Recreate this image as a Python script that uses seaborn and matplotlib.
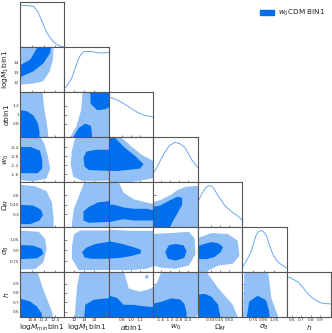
import matplotlib
matplotlib.use("Agg")
import matplotlib.pyplot as plt
from matplotlib.patches import Patch
import seaborn as sns

sns.set_theme(style="white")
plt.rcParams["font.family"] = ["DejaVu Sans"]

dark = "#006FED"
light = "#93C1F5"
line_col = "#6AA8F0"

labels = [r"log$M_{min}$bin1", r"log$M_1$bin1", r"$\alpha$bin1", r"$w_0$",
          r"$\Omega_M$", r"$\sigma_8$", r"$h$"]
lims = [(10.2, 12.45), (11.0, 15.5), (0.5, 1.5), (-1.95, 0.05),
        (0.09, 0.81), (0.59, 1.23), (0.54, 1.02)]
xticks = [[10.8, 11.4, 12.0], [12, 13, 14], [0.8, 1.0, 1.2], [-1.6, -1.2, -0.8, -0.4],
          [0.30, 0.45, 0.60], [0.75, 0.90, 1.05], [0.6, 0.7, 0.8, 0.9]]
xticklabels = [["10.8", "11.4", "12.0"], ["12", "13", "14"], ["0.8", "1.0", "1.2"],
               ["-1.6", "-1.2", "-0.8", "-0.4"],
               ["0.30", "0.45", "0.60"], ["0.75", "0.90", "1.05"],
               ["0.6", "0.7", "0.8", "0.9"]]
yticks = [None, [12, 13, 14], [0.8, 1.0, 1.2], [-0.4, -0.8, -1.2, -1.6],
          [0.3, 0.45, 0.6], [0.75, 0.9, 1.05], [0.6, 0.7, 0.8, 0.9]]
yticklabels = [None, ["12", "13", "14"], ["0.8", "1", "1.2"],
               ["-0.4", "-0.8", "-1.2", "-1.6"],
               ["0.3", "0.45", "0.6"], ["0.75", "0.9", "1.05"],
               ["0.6", "0.7", "0.8", "0.9"]]

# 1D marginals (normalised)
mmin_x = [10.2, 10.54, 10.88, 11.1, 11.3, 11.55, 11.78, 12.0, 12.23, 12.45]
mmin_p = [1.0, 0.99, 0.97, 0.85, 0.63, 0.35, 0.19, 0.08, 0.02, 0.0]
m1_x = [11.0, 11.32, 11.63, 11.9, 12.13, 12.35, 12.62, 12.89, 13.12, 13.66, 14.33, 14.92, 15.5]
m1_p = [0.09, 0.17, 0.28, 0.43, 0.6, 0.74, 0.88, 0.95, 0.97, 0.97, 0.94, 0.93, 0.95]
alpha_x = [0.5, 0.63, 0.76, 0.9, 1.05, 1.17, 1.28, 1.4, 1.5]
alpha_p = [0.96, 0.91, 0.85, 0.76, 0.65, 0.58, 0.53, 0.5, 0.48]
w0_x = [-1.95, -1.79, -1.65, -1.45, -1.21, -0.97, -0.75, -0.55, -0.35, -0.23, 0.01, 0.05]
w0_p = [0.22, 0.34, 0.5, 0.7, 0.88, 0.95, 0.92, 0.84, 0.67, 0.54, 0.38, 0.34]
om_x = [0.09, 0.162, 0.22, 0.284, 0.342, 0.421, 0.529, 0.594, 0.659, 0.738, 0.81]
om_p = [0.6, 0.81, 0.95, 1.0, 0.95, 0.75, 0.52, 0.43, 0.35, 0.27, 0.17]
s8_x = [0.59, 0.654, 0.718, 0.788, 0.82, 0.859, 0.897, 0.942, 0.987, 1.038, 1.089, 1.134, 1.23]
s8_p = [0.11, 0.28, 0.49, 0.87, 0.96, 1.0, 0.97, 0.87, 0.63, 0.41, 0.28, 0.21, 0.1]
h_x = [0.54, 0.602, 0.665, 0.718, 0.77, 0.814, 0.862, 0.905, 0.948, 1.02]
h_p = [0.98, 0.92, 0.84, 0.71, 0.56, 0.47, 0.4, 0.35, 0.33, 0.32]

# 2D credible regions: 95% (outer) and 68% (inner) boundaries
m1_mmin_95 = [(10.1, 11.72), (10.1, 15.7), (11.91, 15.7), (11.87, 14.24), (11.71, 13.07),
              (11.37, 12.08), (10.88, 11.86)]
m1_mmin_68 = [(10.1, 12.4), (10.88, 13.07), (11.39, 13.88), (11.73, 14.92), (11.78, 15.7),
              (11.15, 15.7), (10.72, 14.24), (10.1, 13.57)]
al_mmin_95 = [(10.1, 0.45), (10.1, 1.55), (11.33, 1.55), (11.44, 1.1), (11.6, 0.7), (11.64, 0.45)]
al_mmin_68 = [(10.1, 0.45), (10.1, 1.1), (10.54, 1.08), (10.88, 0.98), (11.1, 0.82),
              (11.19, 0.62), (11.19, 0.45)]
w0_mmin_95 = [(10.1, -1.85), (10.1, 0.1), (11.21, 0.1), (11.44, -0.25), (11.6, -0.75),
              (11.73, -1.35), (11.55, -1.79), (10.88, -1.91)]
w0_mmin_68 = [(10.1, -0.39), (10.76, -0.39), (11.21, -0.55), (11.33, -0.95), (11.33, -1.35),
              (11.1, -1.55), (10.1, -1.55)]
om_mmin_95 = [(10.1, 0.774), (10.97, 0.745), (11.55, 0.666), (11.82, 0.486), (11.91, 0.22),
              (11.91, 0.05), (10.1, 0.05)]
om_mmin_68 = [(10.1, 0.45), (10.88, 0.436), (11.26, 0.371), (11.37, 0.284), (11.19, 0.198),
              (10.72, 0.14), (10.1, 0.14)]
s8_mmin_95 = [(10.1, 1.185), (11.15, 1.166), (11.48, 1.064), (11.55, 0.923), (11.39, 0.731),
              (10.97, 0.635), (10.1, 0.628)]
s8_mmin_68 = [(10.1, 0.98), (10.88, 0.968), (11.3, 0.923), (11.39, 0.852), (11.06, 0.788),
              (10.1, 0.776)]
h_mmin_95 = [(10.1, 1.05), (11.06, 1.05), (11.3, 0.886), (11.55, 0.746), (11.82, 0.602),
             (11.91, 0.5), (10.1, 0.5)]
h_mmin_68 = [(10.1, 0.746), (10.72, 0.708), (11.06, 0.655), (11.3, 0.583), (11.33, 0.5),
             (10.1, 0.5)]

al_m1_95 = [(11.45, 0.45), (12.22, 0.74), (12.71, 1.11), (12.85, 1.55), (15.6, 1.55), (15.6, 0.45)]
al_m1_68a = [(13.61, 1.55), (13.66, 1.24), (14.33, 1.1), (15.19, 1.12), (15.6, 1.18), (15.6, 1.55)]
al_m1_68b = [(11.77, 0.45), (12.44, 0.7), (13.12, 0.8), (13.7, 0.75), (13.79, 0.59), (13.79, 0.45)]
w0_m1_95 = [(12.13, 0.1), (15.6, 0.1), (15.6, -1.89), (12.8, -1.89), (11.9, -1.71),
            (11.63, -1.15), (11.77, -0.55)]
w0_m1_68 = [(15.6, -0.51), (14.15, -0.51), (13.25, -0.59), (12.94, -0.85), (13.03, -1.25),
            (13.48, -1.41), (15.6, -1.45)]
om_m1_95 = [(13.12, 0.85), (15.6, 0.85), (15.6, 0.05), (11.77, 0.05), (11.77, 0.162),
            (11.95, 0.378), (12.49, 0.594)]
om_m1_68 = [(15.6, 0.508), (14.38, 0.486), (13.48, 0.414), (12.94, 0.342), (12.94, 0.198),
            (13.48, 0.162), (15.6, 0.176)]
s8_m1_95 = [(12.62, 1.185), (15.6, 1.185), (15.6, 0.622), (12.44, 0.622), (11.77, 0.782),
            (11.77, 0.968), (12.0, 1.134)]
s8_m1_68 = [(15.6, 1.025), (14.15, 0.993), (13.25, 0.942), (12.8, 0.878), (13.03, 0.801),
            (13.7, 0.782), (15.6, 0.782)]
h_m1_95 = [(12.62, 1.05), (15.6, 1.05), (15.6, 0.5), (12.04, 0.5), (12.13, 0.674), (12.31, 0.886)]
h_m1_68 = [(12.98, 0.5), (13.12, 0.674), (13.97, 0.727), (15.6, 0.746), (15.6, 0.5)]

w0_al_95 = [(0.45, 0.1), (0.75, 0.1), (1.0, -0.35), (1.25, -0.75), (1.55, -1.05),
            (1.55, -1.75), (1.3, -1.85), (0.8, -2.0), (0.45, -2.0)]
w0_al_68 = [(0.45, 0.1), (0.6, 0.1), (0.85, -0.4), (1.1, -0.8), (1.28, -1.15), (1.2, -1.35),
            (0.95, -1.4), (0.7, -1.45), (0.45, -1.45)]
om_al_95 = [(0.45, 0.85), (0.7, 0.85), (0.83, 0.644), (1.06, 0.536), (1.35, 0.486),
            (1.55, 0.45), (1.55, 0.05), (0.45, 0.05)]
om_al_68 = [(0.45, 0.45), (0.61, 0.45), (0.83, 0.407), (1.06, 0.385), (1.35, 0.385),
            (1.55, 0.356), (1.55, 0.198), (1.06, 0.198), (0.83, 0.22), (0.45, 0.162)]
s8_al_95 = [(0.45, 1.198), (1.0, 1.179), (1.55, 1.179), (1.55, 0.686), (1.35, 0.641),
            (1.0, 0.622), (0.45, 0.622)]
s8_al_68 = [(0.45, 1.038), (0.8, 0.993), (1.05, 0.948), (1.22, 0.91), (1.22, 0.859),
            (1.0, 0.82), (0.75, 0.795), (0.45, 0.782)]
h_al_95a = [(0.45, 1.05), (0.83, 1.05), (0.95, 0.847), (1.2, 0.814), (1.4, 0.838),
            (1.55, 0.876), (1.55, 0.5), (0.45, 0.5)]
h_al_95b = [(1.31, 0.97), (1.33, 0.99), (1.37, 0.995), (1.4, 0.975), (1.38, 0.952),
            (1.33, 0.95)]
h_al_68 = [(0.45, 0.78), (0.69, 0.746), (0.83, 0.674), (1.06, 0.674), (1.25, 0.66),
           (1.55, 0.646), (1.55, 0.5), (0.45, 0.5)]

om_w0_95 = [(-2.0, 0.486), (-1.65, 0.522), (-1.15, 0.608), (-0.85, 0.688), (-0.45, 0.738),
            (0.1, 0.752), (0.1, 0.05), (-2.0, 0.05)]
om_w0_68 = [(-2.0, 0.414), (-1.65, 0.436), (-1.19, 0.522), (-0.85, 0.58), (-0.65, 0.56),
            (-0.65, 0.45), (-0.85, 0.32), (-1.05, 0.198), (-1.25, 0.05), (-2.0, 0.05)]
s8_w0_95 = [(-2.0, 1.134), (-1.15, 1.147), (-0.35, 1.166), (-0.09, 1.07), (-0.05, 0.846),
            (-0.35, 0.686), (-0.95, 0.641), (-1.55, 0.654), (-2.0, 0.686)]
s8_w0_68 = [(-1.41, 0.878), (-1.25, 0.974), (-0.95, 0.993), (-0.59, 0.974), (-0.45, 0.897),
            (-0.55, 0.795), (-0.95, 0.756), (-1.29, 0.782)]
h_w0_95 = [(-2.0, 0.828), (-1.75, 0.924), (-1.55, 1.05), (0.1, 1.05), (0.1, 0.588),
           (-0.15, 0.5), (-2.0, 0.5)]
h_w0_68 = [(-2.0, 0.684), (-1.55, 0.708), (-1.15, 0.742), (-0.75, 0.732), (-0.55, 0.684),
           (-0.45, 0.588), (-0.45, 0.5), (-2.0, 0.5)]

s8_om_95 = [(0.05, 1.064), (0.313, 1.147), (0.58, 1.134), (0.738, 1.038), (0.767, 0.827),
            (0.659, 0.712), (0.421, 0.686), (0.263, 0.616), (0.2, 0.55), (0.05, 0.55)]
s8_om_68 = [(0.05, 0.948), (0.198, 0.993), (0.313, 1.019), (0.428, 1.0), (0.5, 0.948),
            (0.464, 0.878), (0.364, 0.808), (0.234, 0.776), (0.05, 0.782)]
h_om_95 = [(0.05, 1.05), (0.205, 1.05), (0.421, 0.852), (0.659, 0.674), (0.767, 0.5), (0.05, 0.5)]
h_om_68 = [(0.05, 0.78), (0.205, 0.79), (0.313, 0.761), (0.421, 0.674), (0.472, 0.5), (0.05, 0.5)]

h_s8_95 = [(0.622, 1.05), (0.961, 1.05), (1.012, 0.742), (1.134, 0.5), (0.603, 0.5)]
h_s8_68 = [(0.648, 0.5), (0.692, 0.708), (0.814, 0.77), (0.936, 0.722), (0.98, 0.602), (0.987, 0.5)]

marginals = [(mmin_x, mmin_p), (m1_x, m1_p), (alpha_x, alpha_p), (w0_x, w0_p),
             (om_x, om_p), (s8_x, s8_p), (h_x, h_p)]
contours = {
    (1, 0): ([m1_mmin_95], [m1_mmin_68]),
    (2, 0): ([al_mmin_95], [al_mmin_68]),
    (3, 0): ([w0_mmin_95], [w0_mmin_68]),
    (4, 0): ([om_mmin_95], [om_mmin_68]),
    (5, 0): ([s8_mmin_95], [s8_mmin_68]),
    (6, 0): ([h_mmin_95], [h_mmin_68]),
    (2, 1): ([al_m1_95], [al_m1_68a, al_m1_68b]),
    (3, 1): ([w0_m1_95], [w0_m1_68]),
    (4, 1): ([om_m1_95], [om_m1_68]),
    (5, 1): ([s8_m1_95], [s8_m1_68]),
    (6, 1): ([h_m1_95], [h_m1_68]),
    (3, 2): ([w0_al_95], [w0_al_68]),
    (4, 2): ([om_al_95], [om_al_68]),
    (5, 2): ([s8_al_95], [s8_al_68]),
    (6, 2): ([h_al_95a, h_al_95b], [h_al_68]),
    (4, 3): ([om_w0_95], [om_w0_68]),
    (5, 3): ([s8_w0_95], [s8_w0_68]),
    (6, 3): ([h_w0_95], [h_w0_68]),
    (5, 4): ([s8_om_95], [s8_om_68]),
    (6, 4): ([h_om_95], [h_om_68]),
    (6, 5): ([h_s8_95], [h_s8_68]),
}

n = len(labels)
fig, axes = plt.subplots(n, n, figsize=(3.32, 3.33), dpi=100,
                         gridspec_kw=dict(hspace=0, wspace=0))
fig.subplots_adjust(left=0.06, right=0.997, bottom=0.047, top=0.994)

for i in range(n):
    for j in range(n):
        ax = axes[i, j]
        if j > i:
            ax.remove()
            continue
        if i == j:
            xs, ps = marginals[i]
            sns.lineplot(x=xs, y=ps, ax=ax, color=line_col, lw=0.7, sort=False)
            ax.set_ylim(0, 1.075)
            ax.set_yticks([])
        else:
            outer, inner = contours[(i, j)]
            for poly in outer:
                ax.fill([p[0] for p in poly], [p[1] for p in poly], color=light, lw=0)
            for poly in inner:
                ax.fill([p[0] for p in poly], [p[1] for p in poly], color=dark, lw=0)
            ax.set_ylim(lims[i])
            ax.set_yticks(yticks[i])
            if j == 0:
                ax.set_yticklabels(yticklabels[i])
                ax.set_ylabel(labels[i], fontsize=5.4)
                ax.yaxis.set_label_coords(-0.205, 0.5)
            else:
                ax.set_yticklabels([])
        ax.set_xlim(lims[j])
        ax.set_xticks(xticks[j])
        if i == n - 1:
            ax.set_xticklabels(xticklabels[j])
            ax.set_xlabel(labels[j], fontsize=5.4)
            ax.xaxis.set_label_coords(0.5, -0.125)
        else:
            ax.set_xticklabels([])
            ax.set_xlabel("")
        if not (j == 0 and i > 0):
            ax.set_ylabel("")
        ax.tick_params(axis="both", labelsize=3.1, length=1.8, width=0.4, pad=0.6,
                       direction="in", bottom=True, left=(i != j), colors="#333333")
        for s in ax.spines.values():
            s.set_color("#555555")
            s.set_linewidth(0.8)

fig.legend(handles=[Patch(color=dark, label=r"$w_0$CDM BIN1")], loc="upper right",
           bbox_to_anchor=(1.0, 0.995), frameon=False, fontsize=5.2,
           handlelength=2.0, handleheight=0.8, handletextpad=0.6)

fig.savefig("out.png", dpi=100)
